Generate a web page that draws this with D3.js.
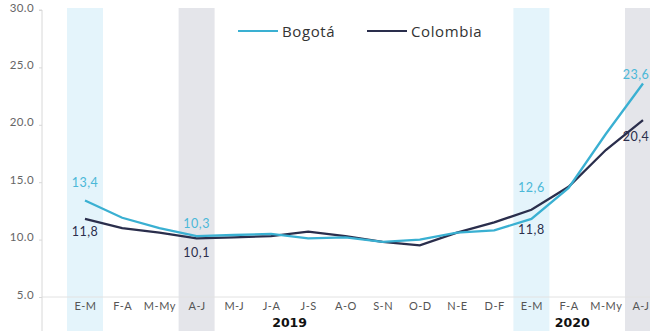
<!DOCTYPE html>
<html>
<head>
<meta charset="utf-8">
<script src="https://cdn.jsdelivr.net/npm/d3@7/dist/d3.min.js"></script>
<style>
  html, body { margin: 0; padding: 0; background: #fff; }
  svg { display: block; }
</style>
</head>
<body>
<svg id="chart" width="650" height="331"></svg>
<script>
// Unemployment rate, moving quarters (%)
const periods = ["E-M","F-A","M-My","A-J","M-J","J-A","J-S","A-O","S-N","O-D","N-E","D-F","E-M","F-A","M-My","A-J"];
const bogota   = [13.4, 11.9, 11.0, 10.3, 10.4, 10.5, 10.1, 10.2, 9.8, 10.0, 10.6, 10.8, 11.8, 14.5, 19.2, 23.6];
const colombia = [11.8, 11.0, 10.6, 10.1, 10.2, 10.3, 10.7, 10.3, 9.8, 9.5, 10.6, 11.5, 12.6, 14.6, 17.8, 20.4];
const yTicks = [5, 10, 15, 20, 25, 30];
const years = [{label: "2019", from: 0, to: 11, dx: 0}, {label: "2020", from: 12, to: 15, dx: -15}];
// highlighted quarters: index and kind
const highlights = [{i: 0, kind: "blue"}, {i: 3, kind: "gray"}, {i: 12, kind: "blue"}, {i: 15, kind: "gray"}];
// value labels: index, text, series colour key, value, offsets
const valueLabels = [
  {i: 0,  text: "13,4", c: "b", v: 13.4, dy: -14},
  {i: 0,  text: "11,8", c: "c", v: 11.8, dy: 17},
  {i: 3,  text: "10,3", c: "b", v: 10.3, dy: -8},
  {i: 3,  text: "10,1", c: "c", v: 10.1, dy: 19},
  {i: 12, text: "12,6", c: "b", v: 12.6, dy: -18},
  {i: 12, text: "11,8", c: "c", v: 11.8, dy: 15},
  {i: 15, text: "23,6", c: "b", v: 23.6, dy: -4, dx: -7},
  {i: 15, text: "20,4", c: "c", v: 20.4, dy: 21, dx: -7}
];

const colors = { b: "#3ab0d2", c: "#2a2e4c" };
const W = 650, H = 331;
const svg = d3.select("#chart");

const x = d3.scalePoint().domain(d3.range(periods.length)).range([85, 643]);
const y = d3.scaleLinear().domain([5, 30]).range([297, 10]);
const bandW = 36;

// highlight bands
svg.append("g").selectAll("rect").data(highlights).join("rect")
  .attr("x", d => x(d.i) - bandW / 2)
  .attr("y", 8)
  .attr("width", bandW)
  .attr("height", H - 8)
  .attr("fill", d => d.kind === "blue" ? "#e4f4fb" : "#e4e5ea");

// baseline gridline at the axis minimum
svg.append("line")
  .attr("x1", 42).attr("x2", W)
  .attr("y1", y(5)).attr("y2", y(5))
  .attr("stroke", "#e2e2e2").attr("stroke-width", 1);

// y axis
const yAxis = d3.axisLeft(y).tickValues(yTicks).tickFormat(d3.format(".1f")).tickSize(3);
const gy = svg.append("g").attr("transform", "translate(42,0)").call(yAxis);
gy.select(".domain").attr("stroke", "#d8d8d8").attr("d", `M-3,${y(30)}H0V${H}`);
gy.selectAll(".tick line").attr("stroke", "#d8d8d8");
gy.selectAll(".tick text")
  .attr("fill", "#666").attr("x", -8).attr("dy", "0.1em")
  .style("font-family", "Lato, 'Open Sans', sans-serif").style("font-size", "11.5px")
  .style("letter-spacing", "0.4px");

// x category labels
const xAxis = d3.axisBottom(x).tickFormat(i => periods[i]).tickSize(0);
const gx = svg.append("g").attr("transform", `translate(0,${y(5)})`).call(xAxis);
gx.select(".domain").remove();
gx.selectAll(".tick text")
  .attr("fill", "#555").attr("dy", "0.95em")
  .style("font-family", "Lato, 'Open Sans', sans-serif").style("font-size", "11px")
  .style("letter-spacing", "0.5px");
// keep the last category label inside the frame
gx.selectAll(".tick").filter(i => i === periods.length - 1).select("text")
  .attr("text-anchor", "end").attr("x", W - x(periods.length - 1) - 1);

// year labels
svg.append("g").selectAll("text").data(years).join("text")
  .attr("x", d => (x(d.from) + x(d.to)) / 2 + d.dx)
  .attr("y", 327)
  .attr("text-anchor", "middle")
  .attr("fill", "#111")
  .style("font-family", "'DejaVu Sans', sans-serif").style("font-weight", "bold").style("font-size", "12.5px")
  .text(d => d.label);

// series lines
const line = d3.line().x((d, i) => x(i)).y(d => y(d)).curve(d3.curveLinear);
svg.append("path").datum(colombia).attr("d", line)
  .attr("fill", "none").attr("stroke", colors.c).attr("stroke-width", 2.3);
svg.append("path").datum(bogota).attr("d", line)
  .attr("fill", "none").attr("stroke", colors.b).attr("stroke-width", 2.3);

// value labels
svg.append("g").selectAll("text").data(valueLabels).join("text")
  .attr("x", d => x(d.i) + (d.dx || 0))
  .attr("y", d => y(d.v) + d.dy)
  .attr("text-anchor", "middle")
  .attr("fill", d => d.c === "b" ? "#4bb8d8" : "#2a2e4c")
  .style("font-family", "Lato, 'Open Sans', sans-serif").style("font-size", "12.5px")
  .style("letter-spacing", "0.5px")
  .text(d => d.text);

// legend
const legend = [{name: "Bogotá", c: colors.b, x: 238}, {name: "Colombia", c: colors.c, x: 367}];
const lg = svg.append("g").selectAll("g").data(legend).join("g")
  .attr("transform", d => `translate(${d.x},31)`);
lg.append("line").attr("x1", 0).attr("x2", 40).attr("y1", 0).attr("y2", 0)
  .attr("stroke", d => d.c).attr("stroke-width", 2);
lg.append("text").attr("x", 44).attr("y", 5.5)
  .attr("fill", "#333")
  .style("font-family", "'Open Sans', sans-serif").style("font-size", "15px")
  .style("letter-spacing", "0.6px")
  .text(d => d.name);
</script>
</body>
</html>
